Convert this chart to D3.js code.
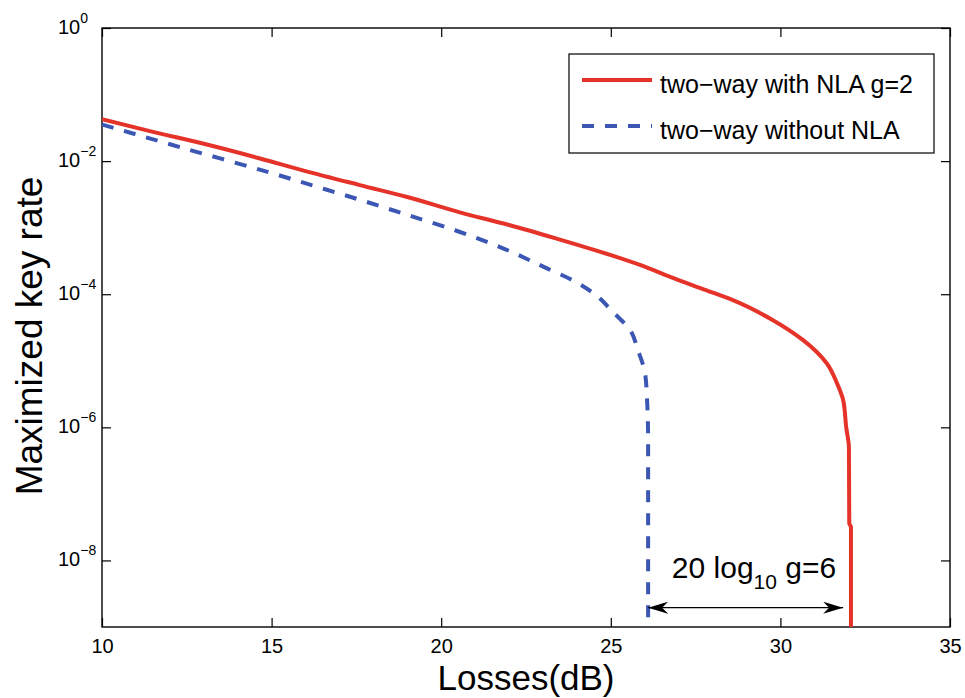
<!DOCTYPE html>
<html>
<head>
<meta charset="utf-8">
<script src="https://cdn.jsdelivr.net/npm/d3@7"></script>
<style>
	body { margin: 0; background: #fff; }
	svg text { font-family: "Liberation Sans", Arial, Helvetica, sans-serif; fill: #000; }
</style>
</head>
<body>
<div id="graphic"></div>
<script>
// losses (dB) vs log10(key rate)
const nlaLoss = [10, 11.5, 13, 14.66, 16, 17.6, 19, 20.55, 22, 23.5, 24.98, 25.86, 26.75, 27.7, 28.6, 29.78, 30.67, 31.37, 31.67, 31.85, 31.94, 32.02, 32.03, 32.08, 32.08];
const nlaRate = [-1.37, -1.56, -1.74, -1.96, -2.15, -2.36, -2.54, -2.77, -2.96, -3.18, -3.41, -3.56, -3.74, -3.92, -4.09, -4.39, -4.69, -5.04, -5.34, -5.59, -6.0, -6.3, -7.44, -7.5, -9.2];

const noNlaLoss = [10, 12.3, 15, 16.37, 17.72, 19.14, 20.47, 21.82, 22.53, 23.15, 23.8, 24.45, 25.07, 25.57, 25.8, 26.01, 26.07, 26.1, 26.1];
const noNlaRate = [-1.45, -1.79, -2.18, -2.39, -2.6, -2.83, -3.05, -3.31, -3.47, -3.62, -3.77, -3.97, -4.27, -4.54, -4.84, -5.19, -5.59, -6.2, -9.2];

const seriesNames = ['two\u2212way with NLA g=2', 'two\u2212way without NLA'];
const colours = ['#e5332a', '#3b57b3'];

const xTicks = [10, 15, 20, 25, 30, 35];
const yTickExps = [0, -2, -4, -6, -8];

// annotation: arrow spans the gap 20 log10 g
const arrowFrom = 26.1, arrowTo = 31.85, arrowExp = -8.71;
const noteLoss = 26.8, noteExp = -8.26;

const width = 965, height = 698;
const margin = { top: 28, right: 15, bottom: 71, left: 102 };
const chart_width = width - margin.left - margin.right;
const chart_height = height - margin.top - margin.bottom;

const svg = d3.select('#graphic').append('svg')
	.attr('width', width).attr('height', height);
const g = svg.append('g').attr('transform', `translate(${margin.left},${margin.top})`);

const x = d3.scaleLinear().domain([10, 35]).range([0, chart_width]);
const y = d3.scaleLog().domain([1e-9, 1]).range([chart_height, 0]);

g.append('clipPath').attr('id', 'clip')
	.append('rect').attr('width', chart_width).attr('height', chart_height);

// axes with inward ticks on all four sides
const tickLen = 9;
const axisStyle = sel => {
	sel.select('.domain').remove();
	sel.selectAll('line').attr('stroke', '#000').attr('stroke-width', 1.2);
};
g.append('g').attr('transform', `translate(0,${chart_height})`)
	.call(d3.axisBottom(x).tickValues(xTicks).tickSize(-tickLen).tickPadding(12).tickFormat(d3.format('d')))
	.call(axisStyle)
	.selectAll('text').attr('font-size', 20);
g.append('g')
	.call(d3.axisTop(x).tickValues(xTicks).tickSize(-tickLen).tickFormat(''))
	.call(axisStyle);

g.append('g')
	.call(d3.axisLeft(y).tickValues(yTickExps.map(e => Math.pow(10, e))).tickSize(-tickLen).tickFormat(''))
	.call(axisStyle);
g.append('g').attr('transform', `translate(${chart_width},0)`)
	.call(d3.axisRight(y).tickValues(yTickExps.map(e => Math.pow(10, e))).tickSize(-tickLen).tickFormat(''))
	.call(axisStyle);

// y tick labels as 10^n
yTickExps.forEach(e => {
	const t = g.append('text')
		.attr('x', -44).attr('y', y(Math.pow(10, e)) + 6)
		.attr('font-size', 20).attr('text-anchor', 'start');
	t.append('tspan').text('10');
	t.append('tspan').attr('font-size', 14).attr('dy', -11).text(e === 0 ? '0' : '\u2212' + (-e));
});

// frame
g.append('rect').attr('width', chart_width).attr('height', chart_height)
	.attr('fill', 'none').attr('stroke', '#000').attr('stroke-width', 1.4);

// curves
const line = d3.line().curve(d3.curveMonotoneY)
	.x(d => x(d[0])).y(d => y(Math.pow(10, d[1])));
const curves = g.append('g').attr('clip-path', 'url(#clip)');
curves.append('path')
	.datum(noNlaLoss.map((v, i) => [v, noNlaRate[i]]))
	.attr('d', line).attr('fill', 'none')
	.attr('stroke', colours[1]).attr('stroke-width', 4)
	.attr('stroke-dasharray', '12,11');
curves.append('path')
	.datum(nlaLoss.map((v, i) => [v, nlaRate[i]]))
	.attr('d', line).attr('fill', 'none')
	.attr('stroke', colours[0]).attr('stroke-width', 4);

// double arrow
const defs = svg.append('defs');
['start', 'end'].forEach(k => {
	defs.append('marker').attr('id', 'arrow-' + k)
		.attr('viewBox', '0 0 20 12').attr('refX', k === 'end' ? 20 : 0).attr('refY', 6)
		.attr('markerWidth', 20).attr('markerHeight', 12).attr('markerUnits', 'userSpaceOnUse')
		.attr('orient', 'auto')
		.append('path')
		.attr('d', k === 'end' ? 'M0,0 L20,6 L0,12 L6,6 Z' : 'M20,0 L0,6 L20,12 L14,6 Z')
		.attr('fill', '#000');
});
g.append('line')
	.attr('x1', x(arrowFrom)).attr('x2', x(arrowTo))
	.attr('y1', y(Math.pow(10, arrowExp))).attr('y2', y(Math.pow(10, arrowExp)))
	.attr('stroke', '#000').attr('stroke-width', 1.2)
	.attr('marker-start', 'url(#arrow-start)').attr('marker-end', 'url(#arrow-end)');

const note = g.append('text')
	.attr('x', x(noteLoss)).attr('y', y(Math.pow(10, noteExp)))
	.attr('font-size', 30);
note.append('tspan').text('20 log');
note.append('tspan').attr('font-size', 21).attr('dy', 11).text('10');
note.append('tspan').attr('dy', -11).text(' g=6');

// legend
const lg = svg.append('g').attr('transform', 'translate(569,54)');
lg.append('rect').attr('width', 365).attr('height', 99)
	.attr('fill', '#fff').attr('stroke', '#000').attr('stroke-width', 1.2);
seriesNames.forEach((name, i) => {
	const yy = 26 + i * 46;
	lg.append('line').attr('x1', 13).attr('x2', 83).attr('y1', yy).attr('y2', yy)
		.attr('stroke', colours[i]).attr('stroke-width', 4)
		.attr('stroke-dasharray', i === 1 ? '12,11' : null);
	lg.append('text').attr('x', 91).attr('y', yy + 13).attr('font-size', 25).text(name);
});

// axis labels
svg.append('text')
	.attr('x', margin.left + chart_width / 2).attr('y', 690)
	.attr('text-anchor', 'middle').attr('font-size', 35).text('Losses(dB)');
svg.append('text')
	.attr('transform', 'translate(42,336) rotate(-90)')
	.attr('text-anchor', 'middle').attr('font-size', 37).text('Maximized key rate');
</script>
</body>
</html>
